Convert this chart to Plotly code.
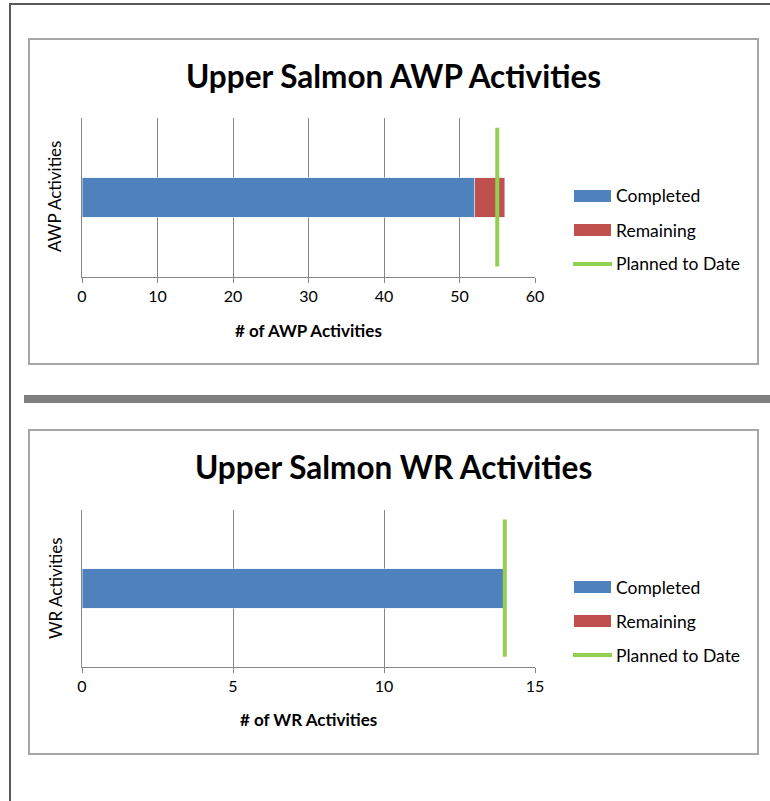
import plotly.graph_objects as go

# ---- data ----
series_names = ["Completed", "Remaining", "Planned to Date"]
awp_category = ["AWP Activities"]
awp_completed = [52]
awp_remaining = [4]
awp_planned = [55, 55]
wr_category = ["WR Activities"]
wr_completed = [14]
wr_remaining = [0]
wr_planned = [14, 14]
awp_ticks = [0, 10, 20, 30, 40, 50, 60]
wr_ticks = [0, 5, 10, 15]

BLUE = "#4F81BD"
RED = "#C0504D"
GREEN = "#92D050"
GRID = "#868686"
FONT = "Lato"

W, H = 770, 801


def px(x):
    return x / W


def py(y):
    return 1 - y / H


fig = go.Figure()

# Top chart
fig.add_trace(go.Bar(y=awp_category, x=awp_completed, orientation="h", marker_color=BLUE,
                     width=0.25, name=series_names[0], xaxis="x", yaxis="y", showlegend=False))
fig.add_trace(go.Bar(y=awp_category, x=awp_remaining, orientation="h", marker_color=RED,
                     width=0.25, name=series_names[1], xaxis="x", yaxis="y", showlegend=False))
fig.add_trace(go.Scatter(x=awp_planned, y=[0, 1], mode="lines", line=dict(color=GREEN, width=4),
                         name=series_names[2], xaxis="x", yaxis="y3", showlegend=False))

# Bottom chart
fig.add_trace(go.Bar(y=wr_category, x=wr_completed, orientation="h", marker_color=BLUE,
                     width=0.25, name=series_names[0], xaxis="x2", yaxis="y2", showlegend=False))
fig.add_trace(go.Bar(y=wr_category, x=wr_remaining, orientation="h", marker_color=RED,
                     width=0.25, name=series_names[1], xaxis="x2", yaxis="y2", showlegend=False))
fig.add_trace(go.Scatter(x=wr_planned, y=[0, 1], mode="lines", line=dict(color=GREEN, width=4),
                         name=series_names[2], xaxis="x2", yaxis="y4", showlegend=False))

xd = [px(82), px(535)]
top_d = [py(277), py(118)]
bot_d = [py(667), py(510)]

xcommon = dict(showgrid=True, gridcolor=GRID, gridwidth=1, showline=True, linecolor=GRID,
               linewidth=1, ticks="outside", ticklen=5, tickcolor=GRID, zeroline=False,
               tickfont=dict(family=FONT, size=16, color="#000"), fixedrange=True,
               automargin=False)
ycommon = dict(showgrid=False, showline=True, linecolor=GRID, linewidth=1, showticklabels=False,
               ticks="", zeroline=False, range=[-0.5, 0.5], fixedrange=True, automargin=False)
ovl = dict(range=[-0.075, 1.07], visible=False, automargin=False, fixedrange=True)

fig.update_layout(
    width=W, height=H, autosize=False,
    margin=dict(l=0, r=0, t=0, b=0, pad=0),
    paper_bgcolor="white", plot_bgcolor="white",
    barmode="stack",
    showlegend=False,
    xaxis=dict(domain=xd, anchor="y", range=[0, 60], tickvals=awp_ticks, **xcommon),
    yaxis=dict(domain=top_d, anchor="x", **ycommon),
    yaxis3=dict(domain=top_d, anchor="x", overlaying="y", **ovl),
    xaxis2=dict(domain=xd, anchor="y2", range=[0, 15], tickvals=wr_ticks, **xcommon),
    yaxis2=dict(domain=bot_d, anchor="x2", **ycommon),
    yaxis4=dict(domain=bot_d, anchor="x2", overlaying="y2", **ovl),
)

shapes = []
# outer page border lines
shapes.append(dict(type="line", xref="paper", yref="paper", x0=px(10), x1=px(10), y0=py(3), y1=py(801),
                   line=dict(color="#595959", width=2)))
shapes.append(dict(type="line", xref="paper", yref="paper", x0=px(10), x1=1, y0=py(4), y1=py(4),
                   line=dict(color="#595959", width=2)))
# separator
shapes.append(dict(type="rect", xref="paper", yref="paper", x0=px(24), x1=1, y0=py(403), y1=py(395),
                   fillcolor="#808080", line=dict(width=0)))
# chart boxes
for (t, b) in [(39, 364), (430, 754)]:
    shapes.append(dict(type="rect", xref="paper", yref="paper", x0=px(29), x1=px(758), y0=py(b), y1=py(t),
                       line=dict(color="#A6A6A6", width=2), fillcolor="rgba(0,0,0,0)"))

annotations = []


def add_legend(y_centers):
    colors = [BLUE, RED]
    for i, name in enumerate(series_names):
        yc = y_centers[i]
        if i < 2:
            shapes.append(dict(type="rect", xref="paper", yref="paper", x0=px(574), x1=px(611),
                               y0=py(yc + 6), y1=py(yc - 6), fillcolor=colors[i], line=dict(width=0)))
        else:
            shapes.append(dict(type="line", xref="paper", yref="paper", x0=px(573), x1=px(612),
                               y0=py(yc), y1=py(yc), line=dict(color=GREEN, width=4)))
        annotations.append(dict(xref="paper", yref="paper", x=px(614), y=py(yc), xanchor="left",
                                yanchor="middle", text=name, showarrow=False,
                                font=dict(family=FONT, size=17.5, color="#000")))


add_legend([196, 230, 264])
add_legend([587, 621, 655])

for (title, yt, xt, yx, ylab, yy) in [
    ("Upper Salmon AWP Activities", 76, "# of AWP Activities", 330, "AWP Activities", 197),
    ("Upper Salmon WR Activities", 467, "# of WR Activities", 719, "WR Activities", 588),
]:
    annotations.append(dict(xref="paper", yref="paper", x=px(394), y=py(yt), xanchor="center",
                            yanchor="middle", text="<b>%s</b>" % title, showarrow=False,
                            font=dict(family=FONT, size=31.5, color="#000")))
    annotations.append(dict(xref="paper", yref="paper", x=px(308), y=py(yx), xanchor="center",
                            yanchor="middle", text="<b>%s</b>" % xt, showarrow=False,
                            font=dict(family=FONT, size=17, color="#000")))
    annotations.append(dict(xref="paper", yref="paper", x=px(55), y=py(yy), xanchor="center",
                            yanchor="middle", text=ylab, showarrow=False, textangle=-90,
                            font=dict(family=FONT, size=17, color="#000")))

fig.update_layout(shapes=shapes, annotations=annotations)

post = (
    "document.body.style.margin='0px';"
    "document.body.style.overflow='hidden';"
)
fig.write_html("out.html", config={"displayModeBar": False, "responsive": False},
               post_script=post)
